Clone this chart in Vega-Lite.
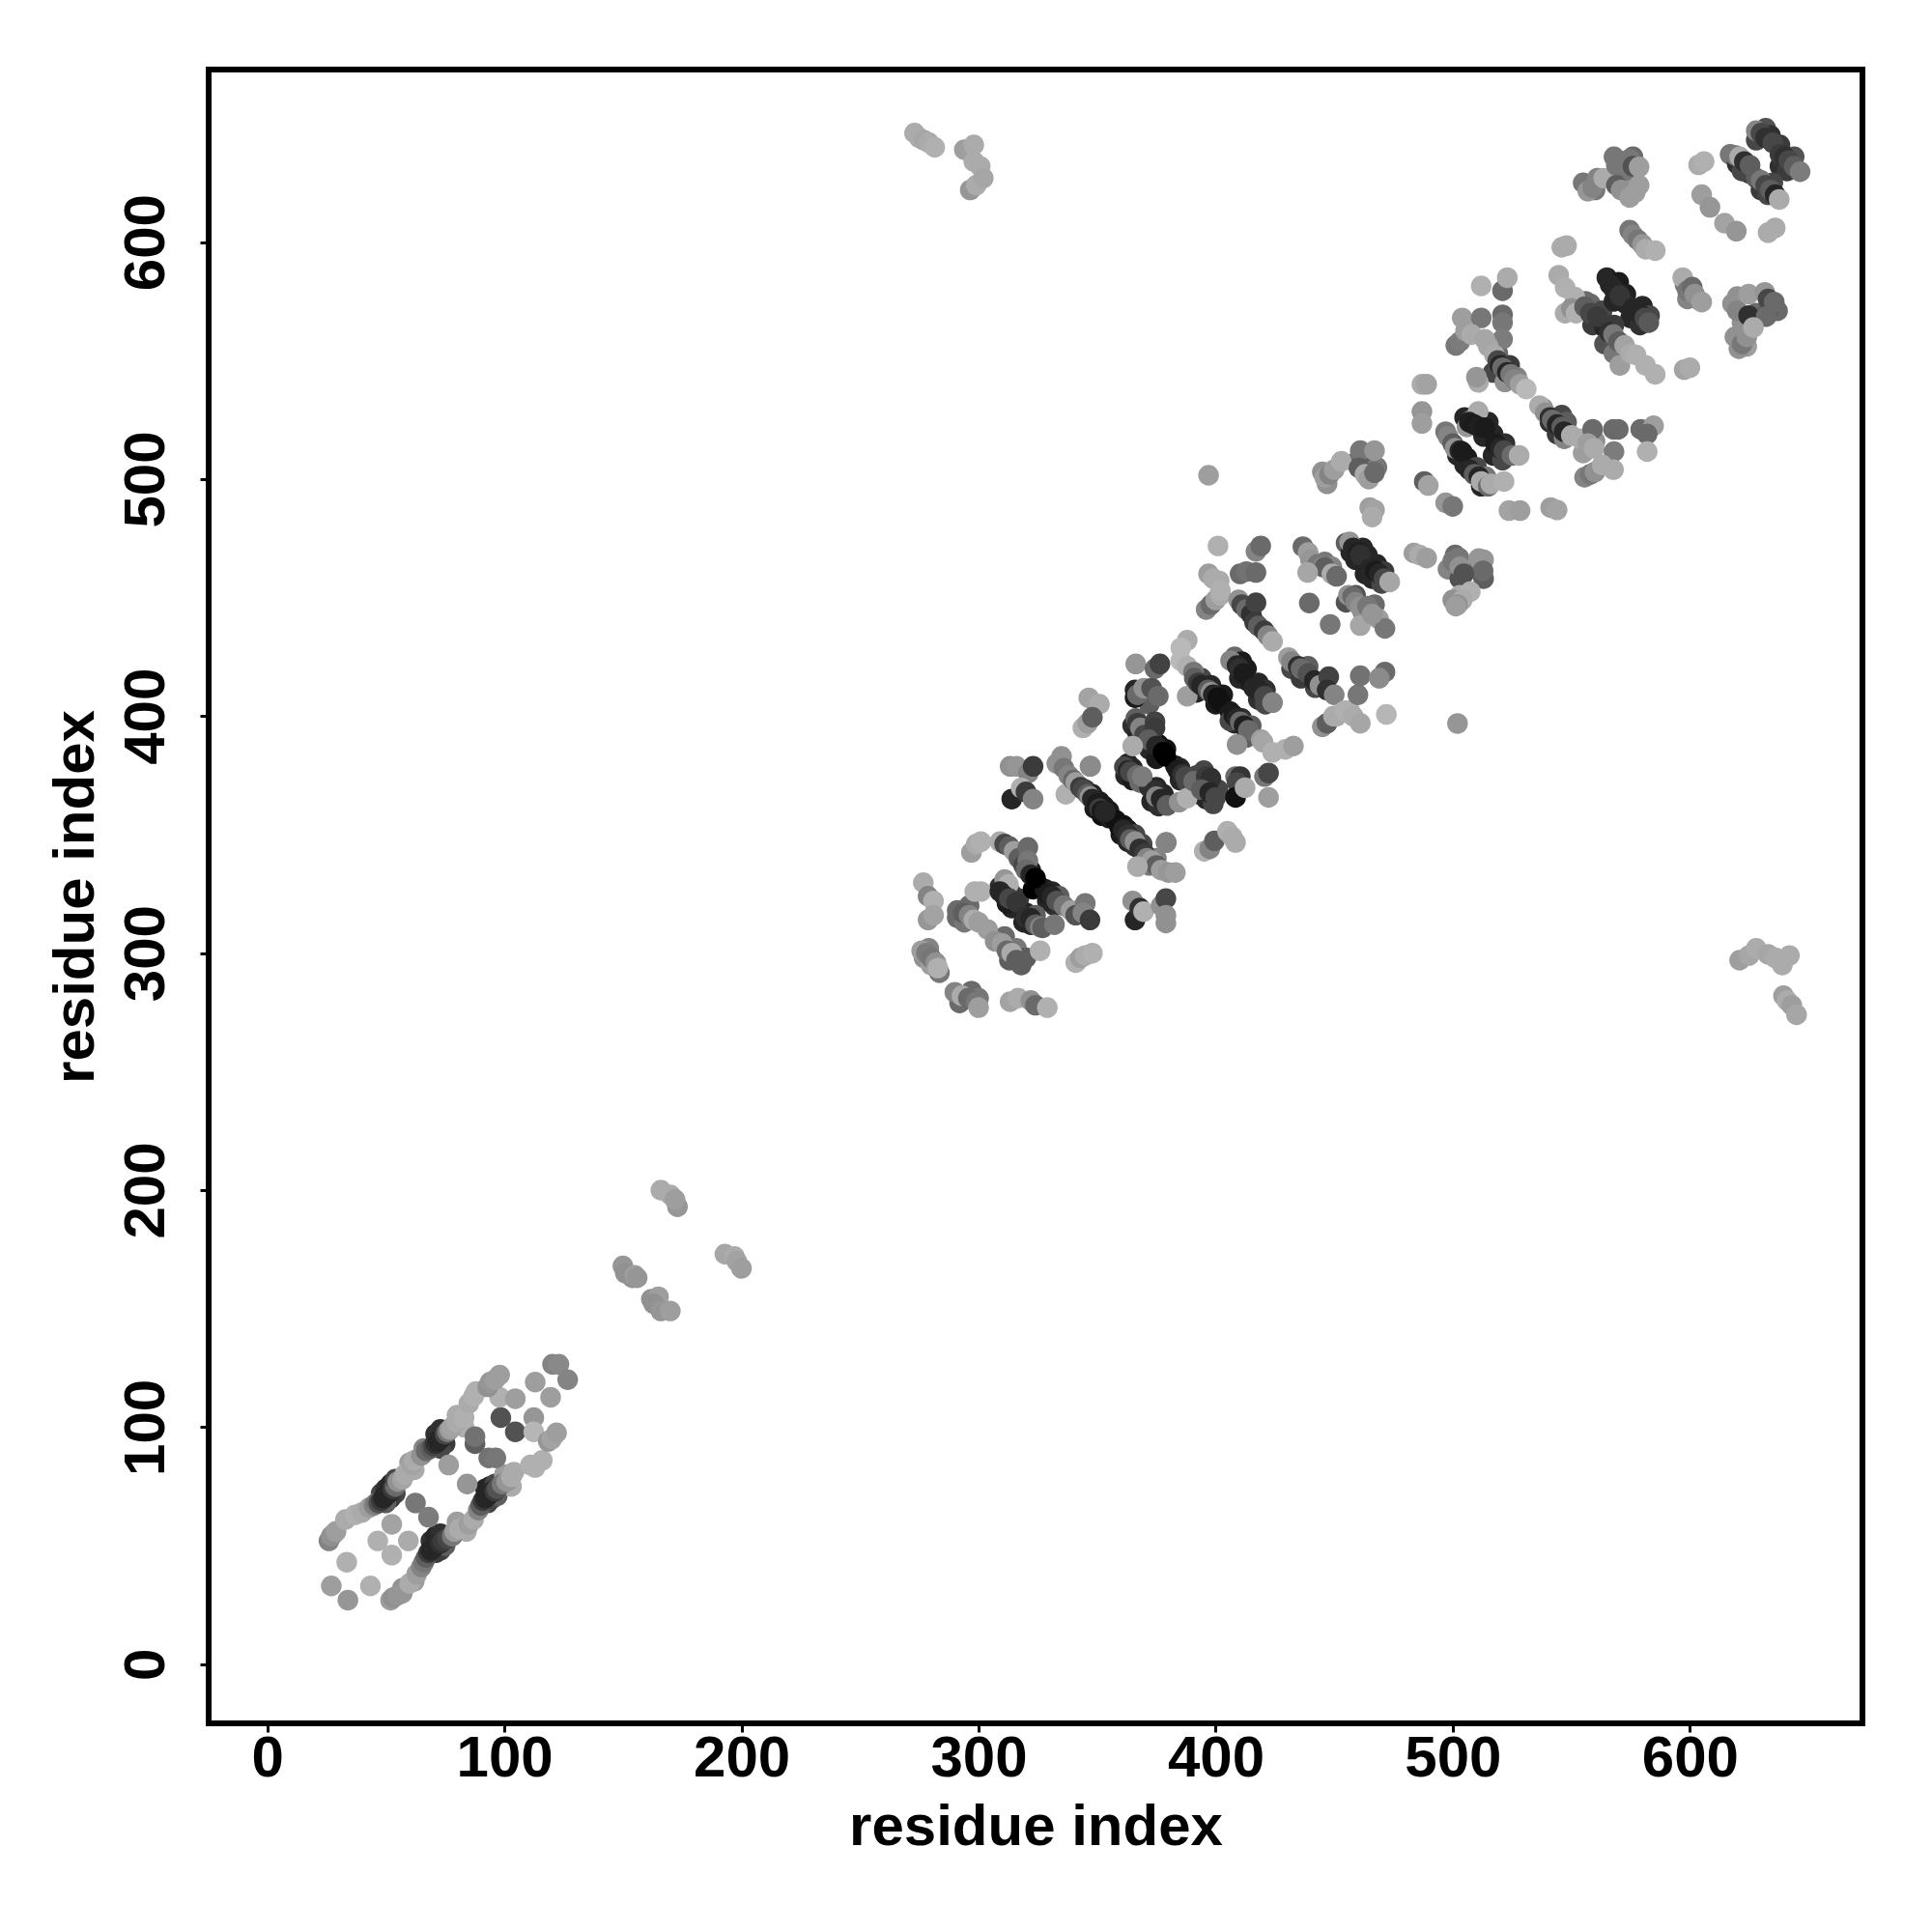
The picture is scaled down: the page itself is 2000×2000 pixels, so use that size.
{"$schema":"https://vega.github.io/schema/vega-lite/v6.json","autosize":{"type":"none"},"padding":{"left":216,"top":72,"right":72,"bottom":216},"width":1712,"height":1712,"background":"white","view":{"stroke":"black","strokeWidth":6},"config":{"font":"Liberation Sans"},
"data":{"values":[
{"x":48,"y":72,"v":70},{"x":50,"y":74,"v":80},{"x":52,"y":76,"v":85},{"x":54,"y":72,"v":70},{"x":52,"y":70,"v":75},{"x":50,"y":68,"v":60},{"x":71,"y":97,"v":80},{"x":73,"y":99,"v":80},{"x":75,"y":93,"v":75},{"x":73,"y":91,"v":70},{"x":69,"y":52,"v":80},{"x":71,"y":54,"v":85},{"x":73,"y":55,"v":80},{"x":73,"y":48,"v":70},{"x":71,"y":47,"v":75},{"x":75,"y":50,"v":60},{"x":92,"y":74,"v":85},{"x":94,"y":75,"v":85},{"x":96,"y":76,"v":70},{"x":95,"y":70,"v":75},{"x":93,"y":68,"v":70},{"x":97,"y":71,"v":60},{"x":66,"y":91,"v":45},{"x":60,"y":85,"v":35},{"x":62,"y":82,"v":30},{"x":80,"y":105,"v":30},{"x":83,"y":100,"v":28},{"x":57,"y":32,"v":40},{"x":62,"y":35,"v":35},{"x":80,"y":60,"v":35},{"x":84,"y":56,"v":30},{"x":100,"y":80,"v":35},{"x":103,"y":75,"v":30},
{"x":309,"y":328,"v":80},{"x":311,"y":326,"v":85},{"x":314,"y":325,"v":75},{"x":317,"y":323,"v":75},{"x":314,"y":319,"v":85},{"x":312,"y":321,"v":90},{"x":320,"y":337,"v":70},{"x":322,"y":335,"v":90},{"x":325,"y":329,"v":95},{"x":323,"y":327,"v":100},{"x":328,"y":327,"v":90},{"x":331,"y":326,"v":85},{"x":334,"y":324,"v":60},{"x":332,"y":320,"v":80},{"x":329,"y":322,"v":85},{"x":320,"y":317,"v":85},{"x":322,"y":312,"v":85},{"x":319,"y":313,"v":85},{"x":324,"y":316,"v":60},
{"x":345,"y":369,"v":75},{"x":348,"y":367,"v":85},{"x":351,"y":364,"v":90},{"x":353,"y":362,"v":90},{"x":355,"y":360,"v":90},{"x":349,"y":361,"v":90},{"x":352,"y":358,"v":95},{"x":355,"y":357,"v":90},{"x":358,"y":356,"v":95},{"x":361,"y":354,"v":95},{"x":363,"y":352,"v":90},{"x":360,"y":350,"v":90},{"x":363,"y":347,"v":85},{"x":366,"y":345,"v":80},{"x":366,"y":350,"v":70},{"x":369,"y":346,"v":70},{"x":372,"y":337,"v":50},{"x":375,"y":340,"v":45},
{"x":363,"y":380,"v":85},{"x":365,"y":378,"v":85},{"x":362,"y":375,"v":85},{"x":365,"y":373,"v":90},{"x":368,"y":372,"v":55},{"x":372,"y":370,"v":80},{"x":375,"y":370,"v":85},{"x":373,"y":364,"v":85},{"x":376,"y":362,"v":80},{"x":378,"y":367,"v":85},{"x":383,"y":379,"v":90},{"x":385,"y":378,"v":85},{"x":385,"y":373,"v":85},{"x":388,"y":372,"v":70},{"x":392,"y":375,"v":70},{"x":395,"y":377,"v":70},{"x":393,"y":367,"v":75},{"x":396,"y":365,"v":85},{"x":399,"y":363,"v":70},{"x":401,"y":369,"v":70},
{"x":366,"y":411,"v":85},{"x":372,"y":409,"v":60},{"x":372,"y":405,"v":60},{"x":365,"y":396,"v":80},{"x":367,"y":393,"v":85},{"x":372,"y":386,"v":85},{"x":376,"y":388,"v":95},{"x":379,"y":386,"v":95},{"x":375,"y":382,"v":90},{"x":379,"y":383,"v":100},
{"x":392,"y":410,"v":85},{"x":394,"y":416,"v":70},{"x":398,"y":413,"v":85},{"x":400,"y":405,"v":90},{"x":403,"y":409,"v":90},{"x":402,"y":406,"v":95},{"x":408,"y":425,"v":55},{"x":411,"y":423,"v":90},{"x":413,"y":420,"v":90},{"x":410,"y":416,"v":85},{"x":413,"y":415,"v":85},{"x":415,"y":414,"v":90},{"x":418,"y":414,"v":85},{"x":421,"y":411,"v":80},{"x":418,"y":407,"v":80},{"x":421,"y":405,"v":70},{"x":406,"y":402,"v":90},{"x":408,"y":397,"v":85},{"x":411,"y":399,"v":80},{"x":413,"y":391,"v":60},{"x":406,"y":398,"v":70},{"x":415,"y":396,"v":60},{"x":432,"y":420,"v":70},{"x":436,"y":416,"v":75},{"x":439,"y":421,"v":60},{"x":442,"y":412,"v":70},
{"x":455,"y":473,"v":60},{"x":457,"y":469,"v":85},{"x":459,"y":466,"v":85},{"x":462,"y":471,"v":85},{"x":464,"y":468,"v":85},{"x":463,"y":460,"v":85},{"x":466,"y":458,"v":85},{"x":468,"y":464,"v":85},{"x":471,"y":461,"v":75},{"x":470,"y":456,"v":70},{"x":446,"y":465,"v":50},{"x":449,"y":463,"v":45},{"x":455,"y":448,"v":65},{"x":459,"y":451,"v":65},{"x":462,"y":444,"v":45},{"x":467,"y":447,"v":55},
{"x":497,"y":520,"v":50},{"x":502,"y":510,"v":85},{"x":506,"y":509,"v":90},{"x":505,"y":526,"v":85},{"x":511,"y":525,"v":85},{"x":515,"y":524,"v":85},{"x":513,"y":518,"v":85},{"x":517,"y":519,"v":85},{"x":522,"y":515,"v":80},{"x":517,"y":510,"v":85},{"x":521,"y":508,"v":70},{"x":505,"y":506,"v":85},{"x":510,"y":505,"v":70},{"x":512,"y":497,"v":85},{"x":514,"y":501,"v":50},
{"x":556,"y":575,"v":55},{"x":558,"y":574,"v":55},{"x":559,"y":565,"v":75},{"x":563,"y":571,"v":70},{"x":565,"y":585,"v":85},{"x":570,"y":583,"v":90},{"x":573,"y":578,"v":88},{"x":568,"y":575,"v":85},{"x":573,"y":574,"v":85},{"x":580,"y":573,"v":85},{"x":575,"y":568,"v":85},{"x":579,"y":565,"v":80},{"x":583,"y":569,"v":70},{"x":564,"y":564,"v":85},{"x":568,"y":565,"v":75},{"x":564,"y":557,"v":65},{"x":568,"y":553,"v":50},
{"x":625,"y":629,"v":75},{"x":617,"y":637,"v":50},{"x":620,"y":633,"v":80},{"x":622,"y":630,"v":70},{"x":628,"y":643,"v":70},{"x":632,"y":648,"v":65},{"x":634,"y":645,"v":80},{"x":638,"y":641,"v":75},{"x":638,"y":632,"v":80},{"x":641,"y":630,"v":75},{"x":644,"y":636,"v":65},{"x":628,"y":627,"v":60},{"x":630,"y":622,"v":75},{"x":633,"y":620,"v":70},{"x":635,"y":625,"v":70},
{"x":555,"y":625,"v":50},{"x":560,"y":622,"v":50},{"x":568,"y":636,"v":50},{"x":572,"y":630,"v":60},{"x":576,"y":636,"v":55},{"x":573,"y":626,"v":50},{"x":575,"y":622,"v":40},{"x":598,"y":582,"v":50},{"x":603,"y":576,"v":50},{"x":599,"y":576,"v":45},{"x":620,"y":577,"v":40},{"x":628,"y":570,"v":55},{"x":622,"y":566,"v":40},{"x":619,"y":560,"v":40},{"x":624,"y":556,"v":35},{"x":637,"y":571,"v":55},{"x":633,"y":571,"v":60},
{"x":519,"y":553,"v":55},{"x":517,"y":545,"v":70},{"x":524,"y":548,"v":75},{"x":527,"y":543,"v":45},{"x":522,"y":541,"v":40},{"x":538,"y":530,"v":40},{"x":541,"y":524,"v":80},{"x":546,"y":527,"v":70},{"x":544,"y":519,"v":75},{"x":548,"y":524,"v":60},{"x":547,"y":517,"v":45},{"x":555,"y":511,"v":35},{"x":560,"y":516,"v":40},
{"x":291,"y":315,"v":55},{"x":296,"y":320,"v":55},{"x":294,"y":313,"v":50},{"x":311,"y":307,"v":55},{"x":313,"y":297,"v":60},{"x":316,"y":302,"v":50},{"x":320,"y":298,"v":60},{"x":279,"y":302,"v":45},{"x":277,"y":298,"v":40},{"x":280,"y":295,"v":35},{"x":292,"y":279,"v":55},{"x":297,"y":284,"v":55},{"x":300,"y":281,"v":50},{"x":445,"y":503,"v":40},{"x":447,"y":498,"v":40},{"x":459,"y":507,"v":55},{"x":463,"y":505,"v":60},{"x":468,"y":505,"v":50},{"x":501,"y":468,"v":55},{"x":498,"y":462,"v":45},{"x":503,"y":458,"v":65},{"x":510,"y":462,"v":55},{"x":513,"y":458,"v":60},{"x":503,"y":451,"v":30},{"x":500,"y":449,"v":40},
{"x":27,"y":33,"v":35},{"x":34,"y":27,"v":38},{"x":43.5,"y":33,"v":28},{"x":33.5,"y":43,"v":28},{"x":46.6,"y":52,"v":28},{"x":52.5,"y":46,"v":28},{"x":59.5,"y":52,"v":30},{"x":52.5,"y":59,"v":33},{"x":62.5,"y":68,"v":50},{"x":68,"y":62,"v":48},{"x":76.5,"y":84,"v":35},{"x":84.3,"y":76,"v":38},{"x":87.6,"y":93,"v":60},{"x":87.6,"y":96,"v":52},{"x":93.4,"y":87,"v":52},{"x":96.4,"y":87,"v":50},{"x":98.5,"y":104,"v":65},{"x":104.6,"y":98,"v":65},{"x":112.4,"y":104,"v":38},{"x":112.4,"y":98,"v":26},{"x":98,"y":112.6,"v":28},{"x":104.6,"y":112,"v":35},{"x":113,"y":119,"v":35},{"x":119.5,"y":112.6,"v":35},{"x":120.3,"y":126.5,"v":45},{"x":123,"y":126.5,"v":43},{"x":126.7,"y":120,"v":45},
{"x":26,"y":52,"v":45},{"x":27,"y":54,"v":40},{"x":28,"y":55,"v":40},{"x":29,"y":56,"v":35},{"x":33,"y":61,"v":30},{"x":37,"y":63,"v":28},{"x":40,"y":64,"v":30},{"x":43,"y":66,"v":35},{"x":45,"y":67,"v":45},{"x":46,"y":68,"v":50},{"x":47,"y":68,"v":65},{"x":48,"y":69,"v":75},{"x":49,"y":70,"v":85},{"x":50,"y":71,"v":85},{"x":51,"y":72,"v":85},{"x":52,"y":73,"v":85},{"x":53,"y":74,"v":75},{"x":54,"y":75,"v":55},{"x":54,"y":78,"v":70},{"x":55,"y":77,"v":40},{"x":57,"y":78,"v":33},{"x":58,"y":80,"v":30},{"x":60,"y":82,"v":30},{"x":61,"y":84,"v":33},{"x":62,"y":86,"v":30},{"x":65,"y":88,"v":40},{"x":67,"y":90,"v":55},{"x":69,"y":91,"v":60},{"x":70,"y":92,"v":70},{"x":71,"y":93,"v":80},{"x":72,"y":94,"v":85},{"x":73,"y":95,"v":85},{"x":74,"y":96,"v":85},{"x":75,"y":97,"v":70},{"x":76,"y":98,"v":50},{"x":77,"y":99,"v":35},{"x":78,"y":100,"v":33},{"x":80,"y":102,"v":30},{"x":83,"y":104,"v":28},{"x":85,"y":110,"v":30},{"x":87,"y":113,"v":28},{"x":88,"y":115,"v":28},{"x":93,"y":117,"v":40},{"x":94,"y":119,"v":38},{"x":96,"y":120,"v":35},{"x":98,"y":122,"v":35},
{"x":52,"y":27,"v":35},{"x":53,"y":28,"v":40},{"x":55,"y":29,"v":38},{"x":57,"y":30,"v":38},{"x":60,"y":34,"v":30},{"x":63,"y":38,"v":35},{"x":65,"y":41,"v":45},{"x":66,"y":43,"v":50},{"x":67,"y":45,"v":60},{"x":68,"y":47,"v":75},{"x":69,"y":48,"v":85},{"x":70,"y":49,"v":85},{"x":71,"y":50,"v":85},{"x":72,"y":51,"v":85},{"x":73,"y":51,"v":80},{"x":74,"y":52,"v":75},{"x":76,"y":53,"v":70},{"x":78,"y":54,"v":50},{"x":79,"y":56,"v":35},{"x":81,"y":57,"v":30},{"x":83,"y":58,"v":30},{"x":85,"y":59,"v":35},{"x":87,"y":61,"v":30},{"x":89,"y":65,"v":45},{"x":90,"y":67,"v":60},{"x":91,"y":69,"v":75},{"x":92,"y":70,"v":85},{"x":93,"y":71,"v":85},{"x":94,"y":72,"v":85},{"x":95,"y":73,"v":85},{"x":96,"y":73,"v":75},{"x":97,"y":74,"v":65},{"x":99,"y":76,"v":50},{"x":101,"y":77,"v":38},{"x":103,"y":79,"v":30},{"x":104,"y":81,"v":30},{"x":111,"y":84,"v":28},{"x":113,"y":83,"v":28},{"x":116,"y":86,"v":28},{"x":118.5,"y":94,"v":38},{"x":120,"y":95,"v":33},{"x":122,"y":97.6,"v":35},
{"x":150,"y":168,"v":38},{"x":151,"y":165,"v":40},{"x":154,"y":163,"v":40},{"x":155,"y":164,"v":35},{"x":156,"y":163,"v":38},{"x":162,"y":154,"v":40},{"x":165,"y":155,"v":35},{"x":163,"y":152,"v":40},{"x":166,"y":149,"v":38},{"x":170,"y":149,"v":35},{"x":166,"y":200,"v":30},{"x":170,"y":198,"v":30},{"x":173,"y":193,"v":38},{"x":172,"y":196,"v":35},{"x":193,"y":173,"v":32},{"x":197,"y":172,"v":30},{"x":198,"y":170,"v":33},{"x":200,"y":167,"v":35},
{"x":273,"y":646,"v":30},{"x":275,"y":644,"v":30},{"x":277,"y":643,"v":32},{"x":279,"y":642,"v":30},{"x":281.5,"y":640,"v":28},{"x":294,"y":639,"v":35},{"x":298,"y":641,"v":30},{"x":298,"y":634,"v":30},{"x":300.7,"y":632,"v":30},{"x":296.5,"y":622,"v":38},{"x":299,"y":624,"v":30},{"x":302,"y":627,"v":32},
{"x":621,"y":297,"v":35},{"x":625,"y":299,"v":32},{"x":628,"y":302,"v":30},{"x":633,"y":299.5,"v":32},{"x":636,"y":298,"v":30},{"x":639,"y":295,"v":30},{"x":642,"y":299,"v":30},{"x":639.5,"y":282,"v":35},{"x":641,"y":280,"v":30},{"x":643,"y":278,"v":35},{"x":645,"y":274,"v":32},
{"x":276.7,"y":329.7,"v":30},{"x":278.7,"y":324,"v":45},{"x":281,"y":322,"v":28},{"x":278.7,"y":314,"v":38},{"x":281,"y":316,"v":33},{"x":276,"y":301,"v":35},{"x":278,"y":300,"v":48},{"x":280,"y":298,"v":50},{"x":282,"y":296,"v":40},{"x":283.5,"y":291.7,"v":50},{"x":282.8,"y":293.7,"v":28},{"x":290,"y":283.5,"v":45},{"x":293,"y":282,"v":30},{"x":295.7,"y":281,"v":55},{"x":299,"y":279.5,"v":50},{"x":300,"y":277,"v":35},{"x":297,"y":342.5,"v":35},{"x":299,"y":346,"v":30},{"x":301,"y":347,"v":28},{"x":298.4,"y":326,"v":28},{"x":301,"y":326,"v":28},{"x":291,"y":318,"v":55},{"x":293.6,"y":317,"v":60},{"x":296,"y":316,"v":45},{"x":298,"y":314,"v":30},{"x":300,"y":313,"v":35},{"x":303.8,"y":310,"v":35},{"x":307,"y":305,"v":40},{"x":310,"y":304,"v":35},{"x":312,"y":301,"v":55},{"x":314,"y":300,"v":30},{"x":316,"y":297,"v":60},{"x":318,"y":295,"v":60},{"x":326,"y":301,"v":28},{"x":313.3,"y":279.5,"v":33},{"x":316.7,"y":281,"v":30},{"x":322,"y":280,"v":40},{"x":324,"y":278,"v":55},{"x":329,"y":277,"v":28},
{"x":309,"y":347,"v":30},{"x":311,"y":346,"v":70},{"x":313,"y":345,"v":60},{"x":315,"y":343,"v":35},{"x":317,"y":340,"v":60},{"x":319,"y":337,"v":70},{"x":320.8,"y":344.6,"v":55},{"x":320.8,"y":339,"v":50},{"x":320,"y":335,"v":55},{"x":322,"y":333,"v":85},{"x":324,"y":331.7,"v":100},{"x":311,"y":331,"v":38},{"x":312.6,"y":329,"v":28},{"x":309,"y":326,"v":85},{"x":311,"y":324,"v":85},{"x":313,"y":323,"v":70},{"x":316,"y":321.5,"v":78},{"x":320,"y":315,"v":80},{"x":322,"y":314.7,"v":85},{"x":324,"y":312,"v":60},{"x":326,"y":311,"v":45},{"x":327,"y":310.7,"v":60},{"x":332,"y":312,"v":50},{"x":329,"y":325,"v":90},{"x":331,"y":324,"v":85},{"x":333,"y":322,"v":65},{"x":336,"y":320,"v":50},{"x":339,"y":318,"v":35},{"x":341,"y":316,"v":65},{"x":345,"y":321,"v":50},{"x":344,"y":317,"v":45},{"x":347,"y":314,"v":75},{"x":341,"y":296,"v":28},{"x":343,"y":298,"v":35},{"x":345,"y":299,"v":30},{"x":348,"y":300,"v":28},
{"x":313.3,"y":378.8,"v":40},{"x":316,"y":378.8,"v":38},{"x":321,"y":376,"v":45},{"x":323,"y":378.8,"v":75},{"x":314,"y":365,"v":85},{"x":318,"y":369.7,"v":28},{"x":320,"y":368,"v":75},{"x":323,"y":365,"v":45},{"x":347,"y":378.8,"v":42},{"x":336.8,"y":367,"v":28},{"x":346.5,"y":407.7,"v":33},{"x":351,"y":405,"v":30},{"x":344,"y":395,"v":28},{"x":346,"y":397,"v":35},{"x":348,"y":399.5,"v":60},{"x":335,"y":383,"v":40},{"x":333,"y":380,"v":40},{"x":336,"y":378,"v":50},{"x":338,"y":375,"v":45},{"x":340,"y":373,"v":55},{"x":341,"y":372,"v":35},{"x":343,"y":370,"v":75},{"x":344,"y":369,"v":70},{"x":346,"y":367,"v":60},{"x":347,"y":366,"v":40},{"x":348,"y":365,"v":85},{"x":350,"y":363,"v":90},{"x":351,"y":361,"v":75},{"x":352,"y":360,"v":90},{"x":353.4,"y":359.6,"v":85},{"x":359.4,"y":353.4,"v":95},{"x":361,"y":352,"v":85},{"x":363,"y":350,"v":80},{"x":364,"y":348,"v":60},{"x":366,"y":347,"v":40},{"x":368,"y":344,"v":80},{"x":370,"y":342,"v":75},{"x":371,"y":340,"v":45},{"x":373,"y":339,"v":35},{"x":375,"y":337,"v":60},{"x":377,"y":335,"v":35},{"x":380,"y":334,"v":38},{"x":383,"y":334,"v":35},{"x":379,"y":346.6,"v":40},{"x":367,"y":336.5,"v":30},
{"x":365,"y":322,"v":40},{"x":366,"y":314,"v":85},{"x":368,"y":319,"v":80},{"x":369.6,"y":317.5,"v":28},{"x":377,"y":320,"v":40},{"x":379,"y":323,"v":70},{"x":379,"y":312.7,"v":40},{"x":379,"y":316,"v":40},
{"x":366.3,"y":422,"v":38},{"x":374.4,"y":420,"v":55},{"x":376.5,"y":422,"v":72},{"x":366,"y":407.8,"v":90},{"x":367,"y":409,"v":55},{"x":369.7,"y":411.8,"v":40},{"x":373,"y":411.8,"v":65},{"x":375.8,"y":408.4,"v":55},{"x":366.3,"y":399,"v":60},{"x":367,"y":397,"v":75},{"x":368.3,"y":395,"v":45},{"x":370,"y":392,"v":70},{"x":374.4,"y":397.6,"v":72},{"x":374.4,"y":395,"v":75},{"x":371.7,"y":390,"v":60},{"x":375,"y":387.4,"v":85},{"x":377.8,"y":384.7,"v":100},{"x":365,"y":387.4,"v":30},{"x":347.3,"y":378.9,"v":42},{"x":361.5,"y":378.6,"v":70},{"x":363,"y":377,"v":85},{"x":364,"y":376.5,"v":70},{"x":367,"y":375,"v":55},{"x":369,"y":374.5,"v":48},{"x":374.4,"y":368.4,"v":80},{"x":375,"y":366,"v":45},{"x":377,"y":365,"v":85},{"x":379.5,"y":362.3,"v":60},{"x":384.6,"y":363.7,"v":40},{"x":388,"y":365.4,"v":28},{"x":384,"y":377.2,"v":90},{"x":386,"y":375.5,"v":80},{"x":387.3,"y":374.5,"v":70},{"x":390.7,"y":372.5,"v":55},{"x":396,"y":374.5,"v":75},{"x":398,"y":373.8,"v":80},{"x":394,"y":369,"v":60},{"x":397.5,"y":367.7,"v":85},{"x":400,"y":365.7,"v":70},{"x":408.4,"y":374.5,"v":55},{"x":410.4,"y":374.5,"v":78},{"x":409,"y":372,"v":70},{"x":408.4,"y":365.7,"v":95},{"x":412.4,"y":369.8,"v":30},{"x":420.6,"y":374.5,"v":50},{"x":422.3,"y":376,"v":70},{"x":422.3,"y":365.7,"v":35},{"x":379.2,"y":346.7,"v":45},{"x":395.2,"y":343,"v":28},{"x":397.5,"y":344,"v":45},{"x":399.5,"y":347.4,"v":60},{"x":405,"y":351.4,"v":28},{"x":407,"y":349,"v":30},{"x":408.4,"y":346.7,"v":30},
{"x":388,"y":432,"v":30},{"x":385.3,"y":428.8,"v":25},{"x":385.3,"y":423.4,"v":25},{"x":388,"y":421,"v":28},{"x":390.7,"y":418.6,"v":50},{"x":388,"y":408.4,"v":35},{"x":391,"y":416,"v":60},{"x":392.7,"y":414,"v":75},{"x":394,"y":413,"v":85},{"x":396.8,"y":411,"v":60},{"x":398,"y":410,"v":40},{"x":399,"y":409,"v":85},{"x":400.9,"y":407.8,"v":95},{"x":406.3,"y":423.4,"v":45},{"x":409,"y":421.3,"v":85},{"x":410,"y":420,"v":80},{"x":411.7,"y":418,"v":90},{"x":416,"y":412,"v":85},{"x":417.9,"y":411,"v":85},{"x":420.6,"y":408.4,"v":70},{"x":424,"y":405.7,"v":45},{"x":407.7,"y":400.3,"v":90},{"x":409,"y":399,"v":85},{"x":410.4,"y":397.6,"v":55},{"x":412,"y":396,"v":88},{"x":413.8,"y":394,"v":55},{"x":409,"y":388,"v":40},{"x":419.2,"y":390,"v":35},{"x":420,"y":389,"v":32},{"x":424,"y":384.7,"v":28},{"x":429.4,"y":386,"v":28},{"x":432.8,"y":387.4,"v":35},
{"x":396,"y":445,"v":45},{"x":398,"y":447,"v":55},{"x":400,"y":449,"v":35},{"x":402,"y":451,"v":30},{"x":397,"y":501.6,"v":35},{"x":401,"y":471.8,"v":28},{"x":397,"y":460,"v":35},{"x":399,"y":458,"v":30},{"x":401.5,"y":457,"v":30},{"x":402,"y":453,"v":28},{"x":410.3,"y":460,"v":55},{"x":413,"y":461,"v":52},{"x":417,"y":460.6,"v":55},{"x":417,"y":469.5,"v":45},{"x":419,"y":471.8,"v":55},{"x":409.7,"y":449,"v":40},{"x":411,"y":447,"v":70},{"x":413,"y":445,"v":55},{"x":415,"y":443,"v":80},{"x":417,"y":447.8,"v":72},{"x":416.4,"y":439.6,"v":75},{"x":418,"y":438,"v":60},{"x":420.5,"y":436,"v":75},{"x":422,"y":434,"v":45},{"x":424,"y":431.5,"v":30},{"x":430.7,"y":424.7,"v":35},{"x":432,"y":423,"v":45},{"x":434.8,"y":421,"v":80},{"x":436,"y":420,"v":55},{"x":439,"y":418,"v":65},{"x":441.6,"y":415,"v":85},{"x":444,"y":413,"v":40},{"x":447.7,"y":416.6,"v":72},{"x":447,"y":411,"v":80},{"x":450,"y":409,"v":45},{"x":445,"y":395.5,"v":40},{"x":447,"y":397,"v":60},{"x":449.7,"y":400,"v":30},{"x":451,"y":400,"v":30},{"x":454.5,"y":402.3,"v":28},{"x":456.5,"y":402.3,"v":28},{"x":458,"y":400,"v":30},{"x":461,"y":397,"v":32},{"x":460,"y":409,"v":50},{"x":461,"y":417,"v":52},{"x":471.4,"y":418.6,"v":55},{"x":469,"y":416,"v":42},{"x":472,"y":400.7,"v":26},{"x":502,"y":396.9,"v":38},
{"x":436.8,"y":471.5,"v":55},{"x":439,"y":469,"v":35},{"x":440,"y":466,"v":38},{"x":443,"y":464,"v":50},{"x":445,"y":463,"v":45},{"x":446,"y":462.7,"v":60},{"x":449,"y":460,"v":30},{"x":451,"y":459,"v":55},{"x":438.8,"y":460.6,"v":32},{"x":439.5,"y":447.7,"v":55},{"x":448.3,"y":438.7,"v":50},{"x":456.5,"y":473.5,"v":38},{"x":458,"y":471,"v":85},{"x":460,"y":469,"v":88},{"x":461,"y":468,"v":80},{"x":465,"y":462,"v":85},{"x":467.3,"y":461.3,"v":90},{"x":469,"y":460,"v":85},{"x":471,"y":458,"v":70},{"x":473.4,"y":456.6,"v":32},{"x":456,"y":451,"v":40},{"x":457.8,"y":450.5,"v":55},{"x":459,"y":448,"v":45},{"x":461,"y":446,"v":40},{"x":464,"y":446.4,"v":50},{"x":461,"y":438.2,"v":32},{"x":468.7,"y":441,"v":35},{"x":471.4,"y":437,"v":50},{"x":466,"y":443,"v":38},
{"x":483.6,"y":468.8,"v":35},{"x":486,"y":468,"v":30},{"x":489,"y":466.7,"v":35},{"x":500,"y":465.4,"v":50},{"x":502.6,"y":466.8,"v":50},{"x":511,"y":466.5,"v":38},{"x":513,"y":466,"v":38},{"x":512.8,"y":461.3,"v":55},{"x":503,"y":463,"v":40},{"x":504.6,"y":460,"v":65},{"x":507.4,"y":452.5,"v":28},{"x":504,"y":449,"v":30},{"x":502,"y":447,"v":40},{"x":501.3,"y":446.4,"v":35},
{"x":446,"y":500.7,"v":35},{"x":448,"y":502,"v":45},{"x":450,"y":504,"v":35},{"x":453,"y":507.5,"v":30},{"x":461,"y":512,"v":50},{"x":460.5,"y":504.7,"v":60},{"x":463,"y":502,"v":30},{"x":464.6,"y":500,"v":35},{"x":467,"y":512,"v":38},{"x":467,"y":502.7,"v":55},{"x":465,"y":488,"v":35},{"x":467,"y":487,"v":33},{"x":466,"y":484,"v":30},{"x":487,"y":540,"v":30},{"x":489,"y":540,"v":33},{"x":487,"y":528.5,"v":38},{"x":487,"y":523.5,"v":35},{"x":488,"y":499,"v":60},{"x":489.7,"y":497.3,"v":33},{"x":497,"y":490,"v":38},{"x":500,"y":488.5,"v":50},{"x":523.7,"y":486.7,"v":33},{"x":528.4,"y":486.7,"v":35},{"x":541.3,"y":488,"v":35},{"x":544,"y":487,"v":33},
{"x":498,"y":518,"v":45},{"x":500,"y":515,"v":60},{"x":501,"y":513,"v":40},{"x":503,"y":512,"v":85},{"x":504,"y":511.5,"v":90},{"x":506,"y":522,"v":38},{"x":508,"y":525,"v":45},{"x":510.7,"y":528.5,"v":30},{"x":507,"y":524,"v":88},{"x":509,"y":523,"v":90},{"x":511,"y":522,"v":88},{"x":513.5,"y":521.7,"v":90},{"x":518,"y":515,"v":90},{"x":520,"y":513,"v":85},{"x":521.6,"y":512,"v":70},{"x":525,"y":510,"v":55},{"x":528,"y":510,"v":30},{"x":507,"y":504,"v":85},{"x":509,"y":502,"v":60},{"x":511,"y":501,"v":85},{"x":512,"y":499,"v":30},{"x":515,"y":497,"v":55},{"x":516,"y":498,"v":30},{"x":521.6,"y":499,"v":28},
{"x":504,"y":568,"v":35},{"x":512,"y":581.5,"v":28},{"x":512,"y":568,"v":50},{"x":521,"y":579.5,"v":55},{"x":523,"y":585,"v":30},{"x":521,"y":569.3,"v":55},{"x":521,"y":566,"v":50},{"x":521,"y":559,"v":48},{"x":501.3,"y":556.4,"v":50},{"x":503,"y":558,"v":48},{"x":505.4,"y":562.5,"v":35},{"x":508,"y":561,"v":30},{"x":510.8,"y":540.8,"v":30},{"x":510,"y":543,"v":38},{"x":513.5,"y":559,"v":32},{"x":515,"y":556,"v":32},{"x":517.6,"y":552.3,"v":30},{"x":519,"y":550,"v":70},{"x":520,"y":548,"v":85},{"x":521,"y":547,"v":55},{"x":523,"y":545,"v":85},{"x":524.4,"y":544.2,"v":50},{"x":526,"y":542,"v":45},{"x":528.4,"y":540,"v":35},{"x":531,"y":538,"v":25},{"x":536.6,"y":531,"v":30},{"x":539,"y":528,"v":40},{"x":541,"y":526,"v":80},{"x":542,"y":525,"v":55},{"x":544,"y":523,"v":85},{"x":546,"y":522,"v":60},{"x":547,"y":520,"v":85},{"x":550,"y":518.4,"v":30},{"x":554,"y":517,"v":30},{"x":559,"y":521,"v":55},{"x":557,"y":515,"v":35},{"x":559.6,"y":513,"v":30},{"x":567.8,"y":521,"v":55},{"x":569.8,"y":521,"v":55},{"x":579.3,"y":521,"v":55},{"x":584.7,"y":522.5,"v":35},{"x":582,"y":519,"v":55},{"x":568,"y":511.6,"v":48},{"x":582,"y":511.6,"v":28},{"x":555.6,"y":500.8,"v":45},{"x":558,"y":502,"v":50},{"x":560,"y":503,"v":40},{"x":563,"y":506,"v":30},{"x":567.8,"y":504,"v":30},
{"x":546,"y":597.8,"v":30},{"x":548,"y":598.5,"v":30},{"x":544.7,"y":586,"v":30},{"x":547.4,"y":580.8,"v":28},{"x":551.5,"y":576.8,"v":28},{"x":547.4,"y":570,"v":30},{"x":550,"y":572,"v":40},{"x":552,"y":570,"v":28},{"x":555.6,"y":572.7,"v":60},{"x":558,"y":570,"v":70},{"x":561,"y":568.6,"v":75},{"x":566.4,"y":582,"v":85},{"x":568,"y":580,"v":85},{"x":570.5,"y":577.4,"v":78},{"x":576,"y":572,"v":85},{"x":578.6,"y":570,"v":85},{"x":581,"y":568,"v":70},{"x":582.7,"y":566,"v":62},{"x":566,"y":562,"v":80},{"x":567.8,"y":561,"v":50},{"x":570,"y":558,"v":60},{"x":572.5,"y":556.4,"v":33},{"x":570.5,"y":548,"v":35},{"x":575,"y":553,"v":30},{"x":577.3,"y":552.4,"v":28},{"x":581.3,"y":548,"v":28},{"x":585.4,"y":544.2,"v":28},{"x":597.6,"y":546.2,"v":33},{"x":600,"y":547,"v":30},
{"x":557,"y":621.5,"v":38},{"x":559,"y":623,"v":45},{"x":561,"y":627,"v":45},{"x":563.7,"y":627,"v":30},{"x":569,"y":632.4,"v":50},{"x":571,"y":634,"v":50},{"x":574.6,"y":635,"v":50},{"x":569,"y":624,"v":60},{"x":571,"y":622,"v":40},{"x":574.6,"y":618.8,"v":35},{"x":577,"y":621,"v":35},{"x":576,"y":632,"v":65},{"x":578.6,"y":631.7,"v":35},{"x":578.6,"y":624,"v":35},{"x":574.6,"y":605,"v":50},{"x":576,"y":603,"v":45},{"x":578,"y":601,"v":50},{"x":580,"y":599,"v":38},{"x":581.4,"y":597,"v":30},{"x":585.4,"y":596.4,"v":28},
{"x":597,"y":585,"v":30},{"x":599,"y":579.5,"v":50},{"x":601,"y":581,"v":55},{"x":602,"y":578,"v":40},{"x":605,"y":574.7,"v":35},{"x":603.7,"y":632.6,"v":30},{"x":606,"y":634,"v":28},{"x":605,"y":620,"v":35},{"x":608.5,"y":614.7,"v":38},{"x":614.6,"y":608,"v":33},{"x":619.6,"y":604.6,"v":38},{"x":633,"y":604,"v":30},{"x":636,"y":606,"v":30},
{"x":618,"y":574,"v":40},{"x":620,"y":571,"v":45},{"x":624.8,"y":578,"v":35},{"x":624.8,"y":569,"v":80},{"x":631.6,"y":578.8,"v":38},{"x":633,"y":576,"v":70},{"x":635.6,"y":574.7,"v":55},{"x":632.2,"y":568.6,"v":55},{"x":620.7,"y":555,"v":40},{"x":622,"y":557,"v":50},{"x":624,"y":560,"v":40},{"x":626.8,"y":564,"v":30},
{"x":628,"y":647,"v":45},{"x":630,"y":646,"v":70},{"x":632,"y":644,"v":80},{"x":635,"y":641.9,"v":70},{"x":619.3,"y":636.5,"v":50},{"x":621,"y":636,"v":30},{"x":623,"y":634,"v":80},{"x":625.4,"y":632.4,"v":60},{"x":638,"y":637,"v":75},{"x":640,"y":636,"v":80},{"x":641.7,"y":634.4,"v":70},{"x":644,"y":632,"v":60},{"x":646.5,"y":629.7,"v":48},{"x":630,"y":626,"v":50},{"x":632,"y":624,"v":70},{"x":634,"y":622,"v":60},{"x":636,"y":620,"v":85},{"x":637.7,"y":618,"v":30}
]},
"mark":{"type":"point","filled":true,"size":460,"opacity":1,"strokeWidth":0},
"encoding":{
"x":{"field":"x","type":"quantitative","scale":{"domain":[-24.73,672.8],"nice":false,"zero":false},"axis":{"title":"residue index","values":[0,100,200,300,400,500,600],"grid":false,"domain":false,"tickColor":"black","tickWidth":3,"tickSize":9,"labelColor":"black","labelFont":"Liberation Sans","labelFontWeight":"bold","labelFontSize":60,"labelPadding":-2,"titleFont":"Liberation Sans","titleFontWeight":"bold","titleFontSize":60,"titleColor":"black","titlePadding":12}},
"y":{"field":"y","type":"quantitative","scale":{"domain":[-24.99,672.8],"nice":false,"zero":false},"axis":{"title":"residue index","values":[0,100,200,300,400,500,600],"grid":false,"domain":false,"tickColor":"black","tickWidth":3,"tickSize":9,"labelColor":"black","labelFont":"Liberation Sans","labelFontWeight":"bold","labelFontSize":60,"labelAngle":-90,"labelAlign":"center","labelBaseline":"bottom","labelPadding":25,"titleFont":"Liberation Sans","titleFontWeight":"bold","titleFontSize":60,"titleColor":"black","titlePadding":12}},
"color":{"field":"v","type":"quantitative","legend":null,"scale":{"domain":[0,100],"range":["#ffffff","#000000"]}}
}}
